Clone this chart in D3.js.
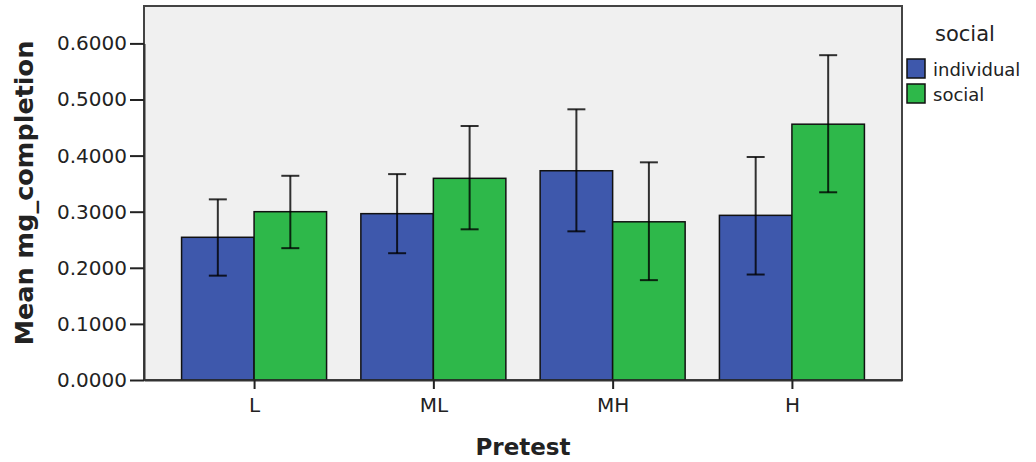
<!DOCTYPE html>
<html>
<head>
<script src="https://d3js.org/d3.v7.min.js"></script>
<style>
  body { margin: 0; background: #fff; }
  text { font-family: "DejaVu Sans", sans-serif; fill: #222; }
  .tick text { font-size: 20px; }
</style>
</head>
<body>
<svg width="1036" height="462"></svg>
<script>
// data
const categories = ["L", "ML", "MH", "H"];
const groups = ["individual", "social"];
const individualMean = [0.2544, 0.2965, 0.373, 0.2935];
const individualLow  = [0.186, 0.226, 0.265, 0.188];
const individualHigh = [0.322, 0.367, 0.4825, 0.3975];
const socialMean = [0.300, 0.3595, 0.282, 0.456];
const socialLow  = [0.235, 0.2686, 0.178, 0.3346];
const socialHigh = [0.364, 0.4528, 0.388, 0.579];
const yTicks = [0, 0.1, 0.2, 0.3, 0.4, 0.5, 0.6];

const colors = {individual: "#3e58ac", social: "#2eb84a"};

const plotLeft = 144, plotRight = 902, plotTop = 6, plotBottom = 380;
const svg = d3.select("svg");

const x = d3.scalePoint().domain(categories).range([plotLeft, plotRight]).padding(0.614);
const sub = d3.scaleBand().domain(groups).range([-72.5, 72.5]);
const y = d3.scaleLinear().domain([0, 0.6]).range([plotBottom, plotBottom - 0.6 * 561]);

// plot background
svg.append("rect")
  .attr("x", plotLeft).attr("y", plotTop)
  .attr("width", plotRight - plotLeft).attr("height", plotBottom - plotTop)
  .attr("fill", "#f0f0f0")
  .attr("stroke", "#444").attr("stroke-width", 2);

const rows = [];
categories.forEach((c, i) => {
  rows.push({cat: c, g: "individual", mean: individualMean[i], lo: individualLow[i], hi: individualHigh[i]});
  rows.push({cat: c, g: "social", mean: socialMean[i], lo: socialLow[i], hi: socialHigh[i]});
});

// bars
svg.selectAll(".bar").data(rows).enter().append("rect")
  .attr("class", "bar")
  .attr("x", d => x(d.cat) + sub(d.g))
  .attr("width", sub.bandwidth())
  .attr("y", d => y(d.mean))
  .attr("height", d => y(0) - y(d.mean))
  .attr("fill", d => colors[d.g])
  .attr("stroke", "#111").attr("stroke-width", 1.5);

// error bars
const eb = svg.selectAll(".err").data(rows).enter().append("g")
  .attr("class", "err")
  .attr("stroke", "rgba(0,0,0,0.8)").attr("stroke-width", 2);
const cx = d => x(d.cat) + sub(d.g) + sub.bandwidth() / 2;
eb.append("line").attr("x1", cx).attr("x2", cx)
  .attr("y1", d => y(d.lo)).attr("y2", d => y(d.hi));
eb.append("line").attr("x1", d => cx(d) - 9).attr("x2", d => cx(d) + 9)
  .attr("y1", d => y(d.hi)).attr("y2", d => y(d.hi));
eb.append("line").attr("x1", d => cx(d) - 9).attr("x2", d => cx(d) + 9)
  .attr("y1", d => y(d.lo)).attr("y2", d => y(d.lo));

// axes
const yAxis = svg.append("g")
  .attr("transform", "translate(" + plotLeft + ",0)")
  .call(d3.axisLeft(y).tickValues(yTicks).tickFormat(d3.format(".4f"))
    .tickSizeInner(14).tickSizeOuter(0).tickPadding(3));
const xAxis = svg.append("g")
  .attr("transform", "translate(0," + plotBottom + ")")
  .call(d3.axisBottom(x).tickSizeInner(9).tickSizeOuter(0).tickPadding(9));
[yAxis, xAxis].forEach(a => {
  a.select(".domain").attr("stroke", "#333").attr("stroke-width", 2);
  a.selectAll(".tick line").attr("stroke", "#222").attr("stroke-width", 2);
  a.selectAll(".tick text").attr("fill", "#333").style("font-family", "DejaVu Sans");
});

// axis titles
svg.append("text")
  .attr("transform", "translate(33," + (plotTop + plotBottom) / 2 + ") rotate(-90)")
  .attr("text-anchor", "middle")
  .style("font-size", "25.5px").style("font-weight", "bold")
  .text("Mean mg_completion");
svg.append("text")
  .attr("x", (plotLeft + plotRight) / 2).attr("y", 455)
  .attr("text-anchor", "middle")
  .style("font-size", "23px").style("font-weight", "bold")
  .text("Pretest");

// legend
svg.append("text").attr("x", 935).attr("y", 41)
  .style("font-size", "21px").text("social");
const lg = svg.selectAll(".legend").data(groups).enter().append("g")
  .attr("class", "legend")
  .attr("transform", (d, i) => "translate(907," + (59 + i * 25) + ")");
lg.append("rect").attr("width", 18).attr("height", 19)
  .attr("fill", d => colors[d]).attr("stroke", "#111").attr("stroke-width", 1.5);
lg.append("text").attr("x", 26).attr("y", 17)
  .style("font-size", "18px").text(d => d);
</script>
</body>
</html>
